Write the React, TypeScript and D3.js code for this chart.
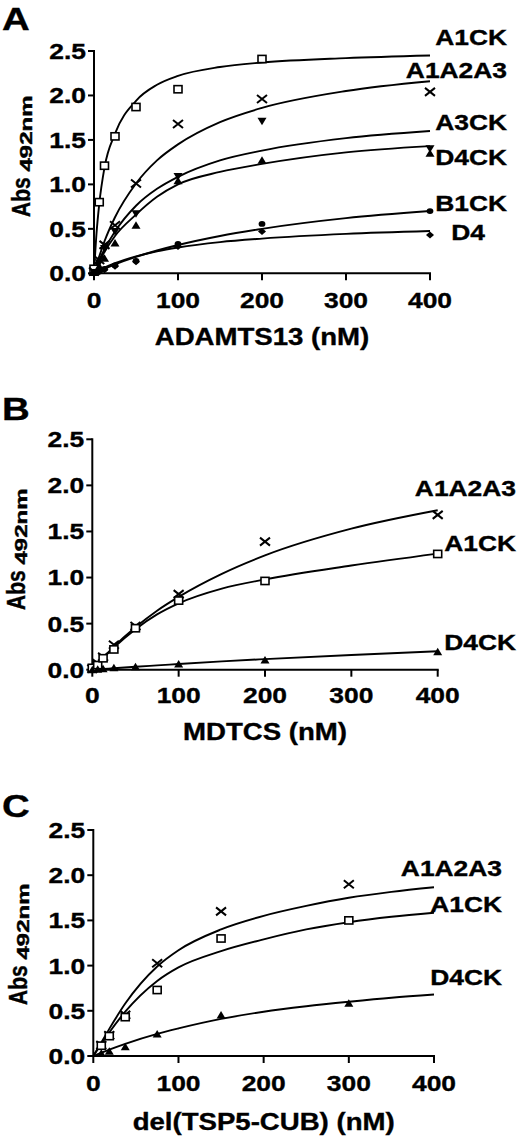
import React from "react";
import * as d3 from "d3";

// ---------- DATA ----------
// Panel A (ADAMTS13)
const xA = [0, 6.25, 12.5, 25, 50, 100, 200, 400];
const A_A1CK = [0.05, 0.8, 1.21, 1.54, 1.87, 2.07, 2.41, null];
const A_A1A2A3 = [0.02, 0.15, 0.32, 0.54, 1.01, 1.68, 1.96, 2.04];
const A_A3CK = [0.01, 0.12, 0.28, 0.47, 0.67, 1.09, 1.71, 1.4];
const A_D4CK = [0.01, 0.08, 0.17, 0.34, 0.54, 1.04, 1.27, 1.35];
const A_B1CK = [0.0, 0.02, 0.05, 0.09, 0.14, 0.33, 0.555, 0.7];
const A_D4 = [0.0, 0.02, 0.04, 0.08, 0.13, 0.3, 0.47, 0.43];
// fitted curves
const cxA = [0, 3, 6.25, 12.5, 25, 50, 75, 100, 150, 200, 300, 400];
const cA_A1CK = [0, 0.45, 0.78, 1.19, 1.57, 1.94, 2.12, 2.22, 2.32, 2.37, 2.42, 2.45];
const cA_A1A2A3 = [0, 0.1, 0.19, 0.36, 0.63, 1.01, 1.27, 1.45, 1.7, 1.86, 2.05, 2.16];
const cA_A3CK = [0, 0.07, 0.15, 0.27, 0.47, 0.76, 0.95, 1.085, 1.27, 1.38, 1.52, 1.6];
const cA_D4CK = [0, 0.06, 0.13, 0.24, 0.42, 0.66, 0.86, 1.0, 1.14, 1.23, 1.36, 1.43];
const cA_B1CK = [0, 0.013, 0.027, 0.052, 0.1, 0.184, 0.256, 0.318, 0.42, 0.5, 0.62, 0.7];
const cA_D4 = [0, 0.016, 0.033, 0.063, 0.113, 0.19, 0.247, 0.29, 0.351, 0.39, 0.443, 0.475];

// Panel B (MDTCS)
const xB = [0, 6.25, 12.5, 25, 50, 100, 200, 400];
const B_A1A2A3 = [0.01, 0.07, 0.14, 0.27, 0.475, 0.82, 1.39, 1.68];
const B_A1CK = [0.02, 0.05, 0.124, 0.22, 0.45, 0.75, 0.963, 1.256];
const B_D4CK = [0.0, 0.005, 0.01, 0.02, 0.033, 0.062, 0.105, 0.195];
const cxB = [0, 3, 6.25, 12.5, 25, 50, 75, 100, 150, 200, 300, 400];
const cB_A1A2A3 = [0, 0.032, 0.067, 0.13, 0.25, 0.46, 0.64, 0.79, 1.04, 1.24, 1.53, 1.73];
const cB_A1CK = [0, 0.03, 0.065, 0.125, 0.24, 0.44, 0.6, 0.72, 0.88, 0.98, 1.13, 1.26];
const cB_D4CK = [0, 0.002, 0.004, 0.008, 0.016, 0.032, 0.047, 0.062, 0.09, 0.115, 0.16, 0.2];

// Panel C (del(TSP5-CUB))
const xC = [9.375, 18.75, 37.5, 75, 150, 300];
const C_A1A2A3 = [0.12, 0.23, 0.455, 1.025, 1.6, 1.9];
const C_A1CK = [0.114, 0.22, 0.43, 0.73, 1.3, 1.5];
const C_D4CK = [0.03, 0.052, 0.103, 0.243, 0.453, 0.583];
const cxC = [0, 9.375, 18.75, 37.5, 75, 100, 150, 200, 250, 300, 350, 400];
const cC_A1A2A3 = [0, 0.15, 0.3, 0.58, 0.99, 1.17, 1.4, 1.55, 1.66, 1.75, 1.815, 1.866];
const cC_A1CK = [0, 0.13, 0.26, 0.49, 0.83, 0.98, 1.16, 1.29, 1.4, 1.48, 1.54, 1.585];
const cC_D4CK = [0, 0.037, 0.071, 0.135, 0.245, 0.305, 0.41, 0.49, 0.55, 0.6, 0.645, 0.68];

const xTicks = [0, 100, 200, 300, 400];
const yTicks = [0, 0.5, 1.0, 1.5, 2.0, 2.5];

// ---------- STYLE ----------
const SX = 1.2; // horizontal stretch of the original figure
const FONT = "'Liberation Sans', Arial, Helvetica, sans-serif";

function T({ x, y, size, anchor = "start", rotate = false, children }: any) {
  return (
    <text
      transform={`translate(${x},${y}) scale(${SX},1)${rotate ? " rotate(-90)" : ""}`}
      fontSize={size}
      textAnchor={anchor}
      fontFamily={FONT}
      fontWeight="bold"
      fill="#000"
      stroke="#000"
      strokeWidth={0.35}
    >
      {children}
    </text>
  );
}

function Marker({ type, cx, cy }: any) {
  switch (type) {
    case "square":
      return <rect x={cx - 4} y={cy - 3.6} width={8} height={7.2} fill="#fff" stroke="#000" strokeWidth={1.6} />;
    case "x":
      return (
        <path
          d={`M${cx - 5},${cy - 4}L${cx + 5},${cy + 4}M${cx - 5},${cy + 4}L${cx + 5},${cy - 4}`}
          stroke="#000"
          strokeWidth={2}
          fill="none"
        />
      );
    case "tri":
      return <path d={`M${cx},${cy - 4}L${cx + 4.5},${cy + 3.5}L${cx - 4.5},${cy + 3.5}Z`} fill="#000" />;
    case "tridown":
      return <path d={`M${cx},${cy + 4}L${cx + 4.5},${cy - 3.5}L${cx - 4.5},${cy - 3.5}Z`} fill="#000" />;
    case "circle":
      return <ellipse cx={cx} cy={cy} rx={3.4} ry={2.9} fill="#000" />;
    case "diamond":
      return <path d={`M${cx},${cy - 3.5}L${cx + 4},${cy}L${cx},${cy + 3.5}L${cx - 4},${cy}Z`} fill="#000" />;
    default:
      return null;
  }
}

type Series = { name: string; marker: string; xs: number[]; ys: (number | null)[]; cxs: number[]; cys: number[] };
type Label = { text: string; x: number; y: number };

function Panel({ letter, letterY, x0, x1, yTop, yBot, series, labels, title, titleY, tickY, yl }: any) {
  const x = d3.scaleLinear().domain([0, 400]).range([x0, x1]);
  const y = d3.scaleLinear().domain([0, 2.5]).range([yBot, yTop]);
  const line = d3
    .line<[number, number]>()
    .x((d) => x(d[0]))
    .y((d) => y(d[1]))
    .curve(d3.curveMonotoneX);
  const fmt = d3.format(".1f");
  return (
    <g>
      <T x={2} y={letterY} size={32}>{letter}</T>
      {/* axes */}
      <line x1={x0} x2={x0} y1={yTop - 1} y2={yBot + 1} stroke="#000" strokeWidth={2} />
      <line x1={x0 - 1} x2={x1 + 1} y1={yBot} y2={yBot} stroke="#000" strokeWidth={2} />
      {yTicks.map((t) => (
        <g key={"y" + t}>
          <line x1={x0 - 6} x2={x0} y1={y(t)} y2={y(t)} stroke="#000" strokeWidth={2} />
          <T x={x0 - 8} y={y(t) + 7.9} size={22} anchor="end">{fmt(t)}</T>
        </g>
      ))}
      {xTicks.map((t) => (
        <g key={"x" + t}>
          <line x1={x(t)} x2={x(t)} y1={yBot} y2={yBot + 7} stroke="#000" strokeWidth={2} />
          <T x={x(t)} y={tickY + 7.9} size={22} anchor="middle">{String(t)}</T>
        </g>
      ))}
      <T x={(x0 + x1) / 2} y={titleY + 8.3} size={23} anchor="middle">{title}</T>
      <T x={yl.x} y={yl.y} size={21} rotate>
        Abs{" "}
        <tspan fontSize={14} dy={2} textLength={76} lengthAdjust="spacingAndGlyphs">492nm</tspan>
      </T>
      {/* curves */}
      {series.map((s: Series) => (
        <path
          key={"c" + s.name}
          d={line(s.cxs.map((v, i) => [v, s.cys[i]] as [number, number])) || ""}
          fill="none"
          stroke="#000"
          strokeWidth={1.9}
        />
      ))}
      {/* points */}
      {series.map((s: Series) =>
        s.xs.map((v, i) =>
          s.ys[i] == null ? null : <Marker key={s.name + i} type={s.marker} cx={x(v)} cy={y(s.ys[i] as number)} />
        )
      )}
      {labels.map((l: Label) => (
        <T key={"l" + l.text} x={l.x} y={l.y + 7.9} size={22} anchor="end">{l.text}</T>
      ))}
    </g>
  );
}

export default function App() {
  const seriesA: Series[] = [
    { name: "A1CK", marker: "square", xs: xA, ys: A_A1CK, cxs: cxA, cys: cA_A1CK },
    { name: "A1A2A3", marker: "x", xs: xA, ys: A_A1A2A3, cxs: cxA, cys: cA_A1A2A3 },
    { name: "A3CK", marker: "tridown", xs: xA, ys: A_A3CK, cxs: cxA, cys: cA_A3CK },
    { name: "D4CK", marker: "tri", xs: xA, ys: A_D4CK, cxs: cxA, cys: cA_D4CK },
    { name: "B1CK", marker: "circle", xs: xA, ys: A_B1CK, cxs: cxA, cys: cA_B1CK },
    { name: "D4", marker: "diamond", xs: xA, ys: A_D4, cxs: cxA, cys: cA_D4 },
  ];
  const seriesB: Series[] = [
    { name: "A1A2A3", marker: "x", xs: xB, ys: B_A1A2A3, cxs: cxB, cys: cB_A1A2A3 },
    { name: "A1CK", marker: "square", xs: xB, ys: B_A1CK, cxs: cxB, cys: cB_A1CK },
    { name: "D4CK", marker: "tri", xs: xB, ys: B_D4CK, cxs: cxB, cys: cB_D4CK },
  ];
  const seriesC: Series[] = [
    { name: "A1A2A3", marker: "x", xs: xC, ys: C_A1A2A3, cxs: cxC, cys: cC_A1A2A3 },
    { name: "A1CK", marker: "square", xs: xC, ys: C_A1CK, cxs: cxC, cys: cC_A1CK },
    { name: "D4CK", marker: "tri", xs: xC, ys: C_D4CK, cxs: cxC, cys: cC_D4CK },
  ];
  return (
    <div style={{ position: "absolute", left: 0, top: 0, width: 520, height: 1141, background: "#fff" }}>
      <svg width={520} height={1141} viewBox="0 0 520 1141" style={{ display: "block" }}>
        <rect width={520} height={1141} fill="#fff" />
        <Panel
          letter="A"
          letterY={30}
          x0={94}
          x1={430}
          yTop={51}
          yBot={273.3}
          series={seriesA}
          title="ADAMTS13 (nM)"
          titleY={337}
          tickY={300}
          yl={{ x: 30, y: 217 }}
          labels={[
            { text: "A1CK", x: 507, y: 37 },
            { text: "A1A2A3", x: 507, y: 70 },
            { text: "A3CK", x: 507, y: 122 },
            { text: "D4CK", x: 507, y: 157 },
            { text: "B1CK", x: 507, y: 203 },
            { text: "D4", x: 485, y: 232 },
          ]}
        />
        <Panel
          letter="B"
          letterY={420}
          x0={92.3}
          x1={437.7}
          yTop={439.3}
          yBot={669.7}
          series={seriesB}
          title="MDTCS (nM)"
          titleY={731.7}
          tickY={695}
          yl={{ x: 25, y: 610 }}
          labels={[
            { text: "A1A2A3", x: 516, y: 488 },
            { text: "A1CK", x: 516, y: 543 },
            { text: "D4CK", x: 516, y: 641.7 },
          ]}
        />
        <Panel
          letter="C"
          letterY={817}
          x0={93.3}
          x1={434}
          yTop={830}
          yBot={1056}
          series={seriesC}
          title="del(TSP5-CUB) (nM)"
          titleY={1121.7}
          tickY={1083}
          yl={{ x: 27, y: 1005 }}
          labels={[
            { text: "A1A2A3", x: 502, y: 868 },
            { text: "A1CK", x: 502, y: 904 },
            { text: "D4CK", x: 502, y: 976.7 },
          ]}
        />
      </svg>
    </div>
  );
}
